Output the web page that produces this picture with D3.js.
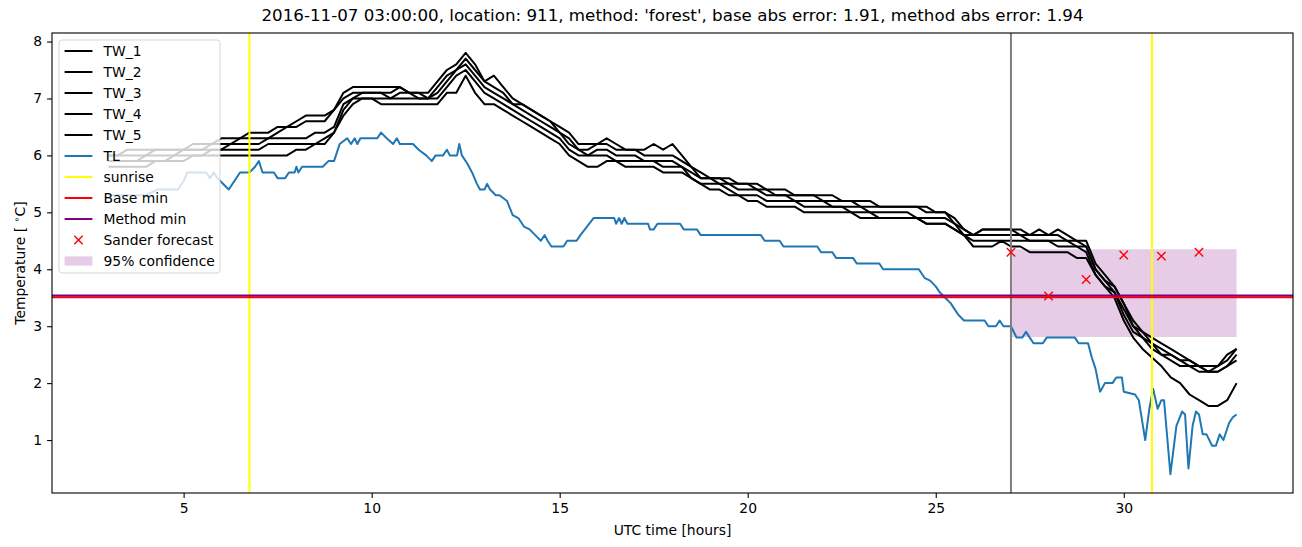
<!DOCTYPE html>
<meta charset="utf-8">
<style>
body { margin: 0; background: #fff; }
svg { font-family: "DejaVu Sans", sans-serif; }
</style>
<body>
<svg width="1302" height="547"></svg>
<script src="https://d3js.org/d3.v7.min.js"></script>
<script>

// time grid of the TW series (UTC hours)
var hours = [
  3, 3.25, 3.5, 3.75, 4, 4.25, 4.5, 4.75,
  5, 5.25, 5.5, 5.75, 6, 6.25, 6.5, 6.75,
  7, 7.25, 7.5, 7.75, 8, 8.25, 8.5, 8.75,
  9, 9.25, 9.5, 9.75, 10, 10.25, 10.5, 10.75,
  11, 11.25, 11.5, 11.75, 12, 12.25, 12.5, 12.75,
  13, 13.25, 13.5, 13.75, 14, 14.25, 14.5, 14.75,
  15, 15.25, 15.5, 15.75, 16, 16.25, 16.5, 16.75,
  17, 17.25, 17.5, 17.75, 18, 18.25, 18.5, 18.75,
  19, 19.25, 19.5, 19.75, 20, 20.25, 20.5, 20.75,
  21, 21.25, 21.5, 21.75, 22, 22.25, 22.5, 22.75,
  23, 23.25, 23.5, 23.75, 24, 24.25, 24.5, 24.75,
  25, 25.25, 25.5, 25.75, 26, 26.25, 26.5, 26.75,
  27, 27.25, 27.5, 27.75, 28, 28.25, 28.5, 28.75,
  29, 29.25, 29.5, 29.75, 30, 30.25, 30.5, 30.75,
  31, 31.25, 31.5, 31.75, 32, 32.25, 32.5, 32.75,
  33
];

var tw1 = [
  6.0,6.0,6.1,6.1,6.1,6.1,6.1,6.1,
  6.1,6.2,6.2,6.2,6.3,6.3,6.3,6.4,
  6.4,6.4,6.5,6.5,6.6,6.7,6.7,6.7,
  6.8,7.1,7.2,7.2,7.2,7.2,7.2,7.2,
  7.1,7.1,7.1,7.3,7.5,7.6,7.8,7.6,
  7.3,7.4,7.2,7.0,6.9,6.8,6.7,6.6,
  6.5,6.4,6.2,6.2,6.2,6.3,6.2,6.1,
  6.1,6.1,6.2,6.1,6.2,6.0,5.8,5.7,
  5.6,5.6,5.6,5.5,5.5,5.5,5.4,5.4,
  5.4,5.3,5.3,5.3,5.3,5.3,5.2,5.2,
  5.2,5.2,5.1,5.1,5.1,5.1,5.1,5.1,
  5.0,5.0,4.9,4.7,4.6,4.7,4.7,4.7,
  4.7,4.7,4.6,4.7,4.6,4.7,4.6,4.5,
  4.5,4.1,3.9,3.7,3.4,3.1,2.9,2.8,
  2.7,2.6,2.5,2.4,2.3,2.3,2.3,2.5,
  2.6
];

var tw2 = [
  6.0,6.0,6.0,6.0,6.0,6.1,6.1,6.1,
  6.1,6.1,6.1,6.2,6.2,6.2,6.3,6.3,
  6.3,6.3,6.4,6.5,6.5,6.6,6.6,6.6,
  6.8,7.0,7.1,7.1,7.1,7.1,7.1,7.2,
  7.1,7.1,7.0,7.2,7.4,7.5,7.7,7.5,
  7.3,7.2,7.1,6.9,6.9,6.8,6.7,6.6,
  6.4,6.3,6.1,6.1,6.2,6.2,6.1,6.1,
  6.1,6.0,6.0,6.0,6.0,5.9,5.8,5.6,
  5.6,5.6,5.5,5.5,5.5,5.4,5.4,5.3,
  5.3,5.3,5.3,5.3,5.2,5.2,5.2,5.2,
  5.1,5.1,5.1,5.1,5.1,5.1,5.1,5.0,
  5.0,5.0,4.8,4.7,4.6,4.7,4.7,4.7,
  4.7,4.6,4.6,4.6,4.6,4.6,4.5,4.5,
  4.4,4.0,3.8,3.7,3.4,3.0,2.9,2.7,
  2.6,2.5,2.4,2.4,2.3,2.2,2.3,2.4,
  2.6
];

var tw3 = [
  5.9,5.9,5.9,5.9,6.0,6.0,6.0,6.0,
  6.1,6.1,6.1,6.1,6.1,6.2,6.2,6.2,
  6.2,6.3,6.3,6.3,6.3,6.3,6.4,6.4,
  6.5,6.9,7.0,7.1,7.1,7.1,7.0,7.1,
  7.1,7.0,7.0,7.1,7.3,7.5,7.6,7.4,
  7.2,7.1,7.0,6.9,6.8,6.7,6.6,6.5,
  6.4,6.2,6.1,6.0,6.1,6.1,6.0,6.0,
  6.0,5.9,5.9,5.9,5.9,5.8,5.7,5.6,
  5.6,5.5,5.5,5.4,5.4,5.4,5.3,5.3,
  5.3,5.2,5.2,5.2,5.2,5.1,5.1,5.1,
  5.1,5.0,5.0,5.0,5.0,5.0,4.9,4.9,
  4.9,4.9,4.8,4.6,4.6,4.6,4.6,4.6,
  4.6,4.6,4.5,4.5,4.5,4.5,4.5,4.4,
  4.4,4.0,3.8,3.6,3.3,3.0,2.8,2.7,
  2.5,2.5,2.4,2.3,2.3,2.2,2.2,2.3,
  2.5
];

var tw4 = [
  5.9,5.9,5.9,5.9,5.9,5.9,5.9,6.0,
  6.0,6.0,6.0,6.1,6.1,6.1,6.1,6.1,
  6.1,6.2,6.2,6.2,6.2,6.2,6.2,6.3,
  6.4,6.8,7.0,7.0,7.0,7.0,7.0,7.0,
  7.0,7.0,7.0,7.0,7.2,7.4,7.5,7.3,
  7.1,7.0,6.9,6.8,6.7,6.6,6.5,6.4,
  6.3,6.1,6.0,6.0,6.0,6.0,5.9,5.9,
  5.9,5.9,5.9,5.8,5.8,5.8,5.6,5.5,
  5.5,5.5,5.4,5.3,5.3,5.3,5.2,5.2,
  5.2,5.2,5.1,5.1,5.1,5.1,5.1,5.0,
  5.0,5.0,4.9,4.9,4.9,4.9,4.9,4.8,
  4.8,4.8,4.7,4.6,4.5,4.5,4.5,4.5,
  4.5,4.5,4.5,4.5,4.5,4.4,4.4,4.4,
  4.3,3.9,3.7,3.6,3.2,2.9,2.8,2.6,
  2.5,2.4,2.3,2.3,2.2,2.2,2.2,2.3,
  2.4
];

var tw5 = [
  5.8,5.8,5.8,5.8,5.8,5.9,5.9,5.9,
  5.9,6.0,6.0,6.0,6.0,6.0,6.0,6.0,
  6.0,6.0,6.0,6.0,6.1,6.1,6.2,6.2,
  6.4,6.7,6.9,7.0,7.0,6.9,6.9,6.9,
  6.9,6.9,6.9,6.9,7.1,7.1,7.4,7.1,
  6.9,6.9,6.8,6.7,6.6,6.5,6.4,6.3,
  6.2,6.0,5.9,5.8,5.8,5.9,5.9,5.8,
  5.8,5.8,5.8,5.7,5.7,5.7,5.6,5.5,
  5.4,5.4,5.3,5.3,5.2,5.2,5.1,5.1,
  5.1,5.1,5.0,5.0,5.0,5.0,5.0,5.0,
  4.9,4.9,4.9,4.9,4.9,4.9,4.9,4.8,
  4.8,4.8,4.7,4.6,4.4,4.4,4.4,4.5,
  4.4,4.4,4.3,4.3,4.3,4.3,4.3,4.2,
  4.2,3.9,3.7,3.5,3.1,2.8,2.6,2.45,
  2.3,2.1,2.0,1.8,1.7,1.6,1.6,1.7,
  2.0
];

// TL: [hour, temperature] readings
var tlReadings = [
  [3.0,5.3],[4.0,5.3],[4.3,5.4],[4.85,5.4],[5.0,5.55],[5.1,5.7],[5.6,5.7],[5.7,5.6],
  [5.8,5.7],[5.9,5.6],[6.2,5.4],[6.5,5.7],[6.75,5.7],[6.9,5.8],[7.0,5.9],[7.1,5.7],
  [7.4,5.7],[7.5,5.6],[7.7,5.6],[7.8,5.7],[7.95,5.7],[8.0,5.8],[8.05,5.7],[8.15,5.8],
  [8.7,5.8],[8.85,5.9],[9.0,5.9],[9.15,6.2],[9.35,6.3],[9.45,6.2],[9.55,6.3],[9.62,6.2],
  [9.7,6.3],[10.15,6.3],[10.25,6.4],[10.4,6.3],[10.57,6.2],[10.67,6.3],[10.75,6.2],[11.1,6.2],
  [11.25,6.1],[11.45,6.0],[11.6,5.9],[11.7,6.0],[11.9,6.0],[12.0,6.1],[12.08,6.0],[12.27,6.0],
  [12.33,6.2],[12.4,6.0],[12.55,5.85],[12.67,5.7],[12.8,5.5],[12.88,5.4],[13.0,5.4],[13.07,5.5],
  [13.15,5.4],[13.3,5.3],[13.4,5.3],[13.6,5.2],[13.75,4.95],[13.9,4.9],[14.05,4.75],[14.2,4.7],
  [14.35,4.6],[14.5,4.5],[14.6,4.6],[14.68,4.5],[14.78,4.4],[15.1,4.4],[15.2,4.5],[15.45,4.5],
  [15.55,4.6],[15.67,4.7],[15.9,4.9],[16.45,4.9],[16.5,4.8],[16.58,4.9],[16.65,4.8],[16.72,4.9],
  [16.8,4.8],[17.35,4.8],[17.4,4.7],[17.5,4.7],[17.6,4.8],[18.2,4.8],[18.3,4.7],[18.65,4.7],
  [18.75,4.6],[20.35,4.6],[20.45,4.5],[20.85,4.5],[20.95,4.4],[21.85,4.4],[21.95,4.3],[22.25,4.3],
  [22.35,4.2],[22.8,4.2],[22.9,4.1],[23.5,4.1],[23.6,4.0],[24.55,4.0],[24.7,3.85],[24.85,3.8],
  [25.0,3.7],[25.1,3.6],[25.25,3.5],[25.4,3.4],[25.5,3.3],[25.6,3.2],[25.75,3.1],[26.3,3.1],
  [26.4,3.0],[26.6,3.0],[26.7,3.1],[26.8,3.0],[27.0,3.0],[27.15,2.8],[27.3,2.8],[27.4,2.9],
  [27.5,2.8],[27.6,2.7],[27.85,2.7],[27.95,2.8],[28.7,2.8],[28.8,2.7],[29.05,2.7],[29.15,2.45],
  [29.25,2.25],[29.37,1.85],[29.5,2.0],[29.7,2.0],[29.8,2.1],[29.95,2.1],[30.0,1.85],[30.3,1.8],
  [30.4,1.7],[30.57,1.0],[30.68,1.55],[30.78,1.9],[30.9,1.55],[31.0,1.7],[31.07,1.7],[31.24,0.4],
  [31.4,1.25],[31.55,1.5],[31.63,1.45],[31.72,0.5],[31.83,1.25],[31.92,1.5],[32.0,1.45],[32.1,1.1],
  [32.2,1.1],[32.35,0.9],[32.45,0.9],[32.55,1.1],[32.65,1.0],[32.8,1.3],[32.9,1.4],[33.0,1.45]
];

var sunriseHours = [6.75, 30.75];
var forecastHour = 27;
var baseMin = 3.51;
var methodMin = 3.54;
var sanderHours = [27, 28, 29, 30, 31, 32];
var sanderTemps = [4.30, 3.53, 3.82, 4.25, 4.23, 4.30];
var confHours = [27, 33];
var confLow = 2.81;
var confHigh = 4.35;

var xTicks = [5, 10, 15, 20, 25, 30];
var yTicks = [1, 2, 3, 4, 5, 6, 7, 8];
var twNames = ["TW_1", "TW_2", "TW_3", "TW_4", "TW_5"];

var title = "2016-11-07 03:00:00, location: 911, method: 'forest', base abs error: 1.91, method abs error: 1.94";

var svg = d3.select("svg"),
    margin = {top: 33, right: 9, bottom: 54, left: 52},
    width = +svg.attr("width") - margin.left - margin.right,
    height = +svg.attr("height") - margin.top - margin.bottom;

var x = d3.scaleLinear().domain([1.5, 34.5]).range([0, width]);
var y = d3.scaleLinear().domain([0.07, 8.15]).range([height, 0]);

var g = svg.append("g").attr("transform", "translate(" + margin.left + "," + margin.top + ")");

svg.append("defs").append("clipPath").attr("id", "plot-clip")
  .append("rect").attr("width", width).attr("height", height);

var plot = g.append("g").attr("clip-path", "url(#plot-clip)");

var line = d3.line()
    .x(function(d) { return x(d[0]); })
    .y(function(d) { return y(d[1]); });

// 95% confidence band
var band = d3.area()
    .x(function(d) { return x(d); })
    .y0(y(confLow))
    .y1(y(confHigh));
plot.append("path")
    .attr("d", band(confHours))
    .attr("fill", "#800080")
    .attr("fill-opacity", 0.2);

[tw1, tw2, tw3, tw4, tw5].forEach(function(s) {
  plot.append("path")
      .attr("d", line(d3.zip(hours, s)))
      .attr("fill", "none")
      .attr("stroke", "#000")
      .attr("stroke-width", 2)
      .attr("stroke-linejoin", "round");
});

plot.append("path")
    .attr("d", line(tlReadings))
    .attr("fill", "none")
    .attr("stroke", "#1f77b4")
    .attr("stroke-width", 2)
    .attr("stroke-linejoin", "round");

plot.selectAll(".sunrise")
    .data(sunriseHours)
  .enter().append("line")
    .attr("x1", x).attr("x2", x)
    .attr("y1", 0).attr("y2", height)
    .attr("stroke", "#ffff00")
    .attr("stroke-width", 2);

plot.append("line")
    .attr("x1", x(forecastHour)).attr("x2", x(forecastHour))
    .attr("y1", 0).attr("y2", height)
    .attr("stroke", "#808080")
    .attr("stroke-width", 2);

plot.append("line")
    .attr("x1", 0).attr("x2", width)
    .attr("y1", y(baseMin)).attr("y2", y(baseMin))
    .attr("stroke", "#ff0000").attr("stroke-width", 2);

plot.append("line")
    .attr("x1", 0).attr("x2", width)
    .attr("y1", y(methodMin)).attr("y2", y(methodMin))
    .attr("stroke", "#800080").attr("stroke-width", 2);

function cross(sel) {
  sel.append("path")
      .attr("d", "M-4.2,-4.2L4.2,4.2M-4.2,4.2L4.2,-4.2")
      .attr("stroke", "#ff0000")
      .attr("stroke-width", 1.4)
      .attr("fill", "none");
}

plot.selectAll(".sander")
    .data(d3.zip(sanderHours, sanderTemps))
  .enter().append("g")
    .attr("transform", function(d) { return "translate(" + x(d[0]) + "," + y(d[1]) + ")"; })
    .call(cross);

// axes
var xAxis = g.append("g")
    .attr("transform", "translate(0," + height + ")")
    .call(d3.axisBottom(x).tickValues(xTicks).tickSize(4.9).tickPadding(4.9));
var yAxis = g.append("g")
    .call(d3.axisLeft(y).tickValues(yTicks).tickSize(4.9).tickPadding(4.9));

[xAxis, yAxis].forEach(function(a) {
  a.attr("font-family", null).attr("font-size", null);
  a.select(".domain").remove();
  a.selectAll(".tick line").attr("stroke", "#000").attr("stroke-width", 1.1);
  a.selectAll(".tick text").attr("fill", "#000").style("font-size", "13.9px");
});

g.append("rect")
    .attr("width", width).attr("height", height)
    .attr("fill", "none")
    .attr("stroke", "#000")
    .attr("stroke-width", 1.1);

svg.append("text")
    .attr("x", margin.left + width / 2)
    .attr("y", 21)
    .attr("text-anchor", "middle")
    .style("font-size", "16.7px")
    .text(title);

svg.append("text")
    .attr("x", margin.left + width / 2)
    .attr("y", 535)
    .attr("text-anchor", "middle")
    .style("font-size", "13.9px")
    .text("UTC time [hours]");

var ylab = svg.append("text")
    .attr("transform", "translate(24.5," + (margin.top + height / 2) + ") rotate(-90)")
    .attr("text-anchor", "middle")
    .style("font-size", "13.9px");
ylab.append("tspan").text("Temperature [ ");
ylab.append("tspan").attr("dy", -5).style("font-size", "9.7px").text("\u2218");
ylab.append("tspan").attr("dy", 5).text("C]");

// legend
var legendItems = twNames.map(function(n) { return {label: n, kind: "line", color: "#000"}; })
  .concat([
    {label: "TL", kind: "line", color: "#1f77b4"},
    {label: "sunrise", kind: "line", color: "#ffff00"},
    {label: "Base min", kind: "line", color: "#ff0000"},
    {label: "Method min", kind: "line", color: "#800080"},
    {label: "Sander forecast", kind: "cross", color: "#ff0000"},
    {label: "95% confidence", kind: "patch", color: "#800080"}
  ]);

var legend = svg.append("g").attr("transform", "translate(59,40)");
legend.append("rect")
    .attr("width", 161).attr("height", 233)
    .attr("rx", 3)
    .attr("fill", "#fff").attr("fill-opacity", 0.8)
    .attr("stroke", "#cccccc").attr("stroke-opacity", 0.8)
    .attr("stroke-width", 1);

var rows = legend.selectAll(".row")
    .data(legendItems)
  .enter().append("g")
    .attr("transform", function(d, i) { return "translate(0," + (11 + i * 21) + ")"; });

rows.each(function(d) {
  var r = d3.select(this);
  if (d.kind === "line") {
    r.append("line").attr("x1", 5.6).attr("x2", 33.4)
      .attr("stroke", d.color).attr("stroke-width", 2);
  } else if (d.kind === "cross") {
    r.append("g").attr("transform", "translate(19.5,0)").call(cross);
  } else {
    r.append("rect").attr("x", 5.6).attr("y", -4.6).attr("width", 27.8).attr("height", 9.2)
      .attr("fill", d.color).attr("fill-opacity", 0.2);
  }
});

rows.append("text")
    .attr("x", 44.5)
    .attr("y", 5)
    .style("font-size", "13.9px")
    .text(function(d) { return d.label; });

</script>
</body>
